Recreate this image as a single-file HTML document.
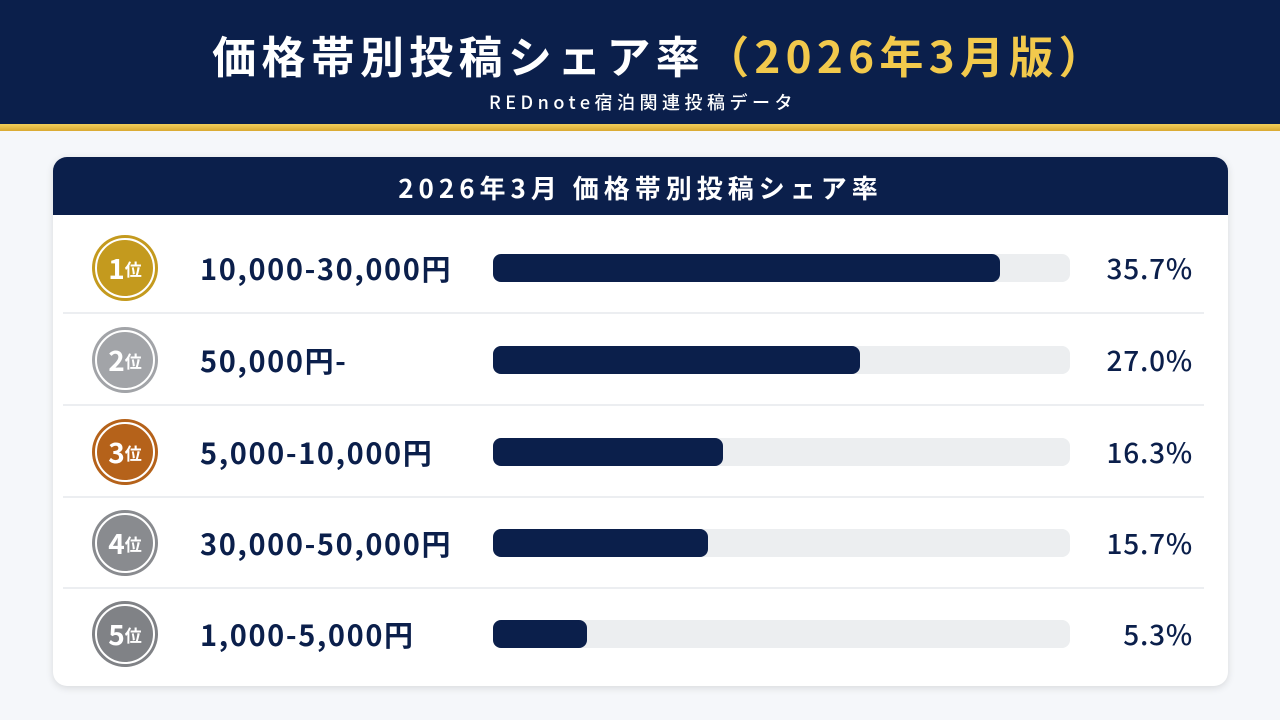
<!DOCTYPE html>
<html><head><meta charset="utf-8"><style>
*{margin:0;padding:0;box-sizing:border-box}
body{width:1280px;height:720px;background:#f5f7fa;font-family:"Liberation Sans","Noto Sans CJK JP",sans-serif;position:relative;overflow:hidden}
.hdr{position:absolute;left:0;top:0;width:1280px;height:124px;background:#0b1f4b}
.gold{position:absolute;left:0;top:124px;width:1280px;height:7px;background:linear-gradient(#f2cf5a,#d9a932)}
.t1{position:absolute;left:0;width:1280px;top:24px;padding-left:40px;text-align:center;color:#fff;font-size:44px;font-weight:bold;letter-spacing:5.3px;line-height:60px;font-family:"Noto Sans CJK JP",sans-serif}
.t1 span{color:#f2c94c}
.t2{position:absolute;left:0;width:1280px;top:89px;padding-left:6px;text-align:center;color:#fff;font-size:18px;letter-spacing:4.5px;line-height:26px;font-family:"Noto Sans CJK JP",sans-serif;font-weight:500}
.card{position:absolute;left:53px;top:157px;width:1175px;height:529px;background:#fff;border-radius:14px;box-shadow:0 2px 8px rgba(0,0,0,.12);overflow:hidden}
.ch{height:58px;background:#0b1f4b;color:#fff;text-align:center;font-size:26px;font-weight:bold;line-height:62px;letter-spacing:5px;font-family:"Noto Sans CJK JP",sans-serif}
.row{position:absolute;left:0;width:1175px;height:92px}
.sep{position:absolute;left:10px;right:24px;bottom:0;height:2px;background:#eceef1}
.badge{position:absolute;left:39px;top:13px;width:66px;height:66px;border-radius:50%;}
.badge i{position:absolute;left:3px;top:3px;right:3px;bottom:3px;border-radius:50%;border:2px solid #fff;display:flex;align-items:center;justify-content:center;color:#fff;font-style:normal;font-weight:bold;font-size:28px;font-family:"Noto Sans CJK JP",sans-serif}
.badge i small{font-size:17px}
.lab{position:absolute;left:147px;top:0;line-height:92px;font-size:29px;letter-spacing:1.6px;color:#0b1f4b;font-weight:bold;font-family:"Noto Sans CJK JP",sans-serif}
.track{position:absolute;left:440px;top:32px;width:577px;height:28px;background:#eceef0;border-radius:8px}
.fill{position:absolute;left:0;top:0;height:28px;background:#0b1f4b;border-radius:8px}
.pct{position:absolute;right:35px;top:0;line-height:92px;font-size:28px;letter-spacing:0.8px;color:#0b1f4b;font-weight:500;font-family:"Noto Sans CJK JP",sans-serif}
</style></head><body>
<div class="hdr"></div><div class="gold"></div>
<div class="t1">価格帯別投稿シェア率<span>（2026年3月版）</span></div>
<div class="t2">REDnote宿泊関連投稿データ</div>
<div class="card">
<div class="ch">2026年3月 価格帯別投稿シェア率</div>
<div class="row" style="top:65px"><div class="badge" style="background:#c49a1e"><i style="background:#c49a1e">1<small>位</small></i></div><div class="lab">10,000-30,000円</div><div class="track"><div class="fill" style="width:507px"></div></div><div class="pct">35.7%</div><div class="sep"></div></div>
<div class="row" style="top:157px"><div class="badge" style="background:#a2a4a8"><i style="background:#a2a4a8">2<small>位</small></i></div><div class="lab">50,000円-</div><div class="track"><div class="fill" style="width:367px"></div></div><div class="pct">27.0%</div><div class="sep"></div></div>
<div class="row" style="top:249px"><div class="badge" style="background:#b5621a"><i style="background:#b5621a">3<small>位</small></i></div><div class="lab">5,000-10,000円</div><div class="track"><div class="fill" style="width:230px"></div></div><div class="pct">16.3%</div><div class="sep"></div></div>
<div class="row" style="top:340px"><div class="badge" style="background:#898b8f"><i style="background:#898b8f">4<small>位</small></i></div><div class="lab">30,000-50,000円</div><div class="track"><div class="fill" style="width:215px"></div></div><div class="pct">15.7%</div><div class="sep"></div></div>
<div class="row" style="top:431px"><div class="badge" style="background:#808286"><i style="background:#808286">5<small>位</small></i></div><div class="lab">1,000-5,000円</div><div class="track"><div class="fill" style="width:94px"></div></div><div class="pct">5.3%</div></div>
</div>
</body></html>
